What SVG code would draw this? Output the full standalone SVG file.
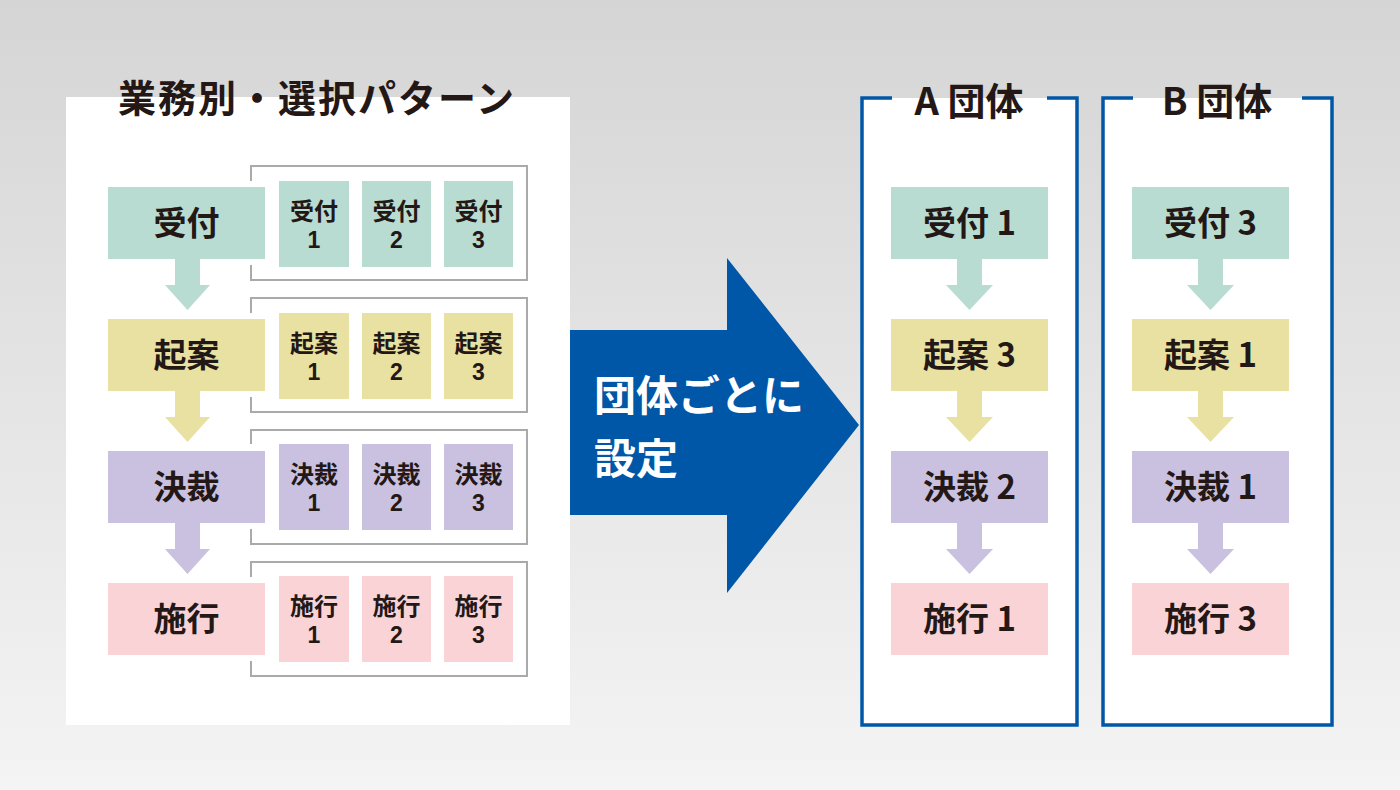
<svg xmlns="http://www.w3.org/2000/svg" width="1400" height="790" viewBox="0 0 1400 790">
<defs>
<linearGradient id="bg" x1="0" y1="0" x2="0" y2="1">
<stop offset="0" stop-color="#d5d5d5"/>
<stop offset="1" stop-color="#f4f4f4"/>
</linearGradient>
<style>
text{font-family:"Noto Sans CJK JP","Noto Sans",sans-serif;font-weight:bold;fill:#231815}
.big{font-size:33px;text-anchor:middle}
.sm{font-size:24px;text-anchor:middle}
.num{font-family:"Liberation Sans",Arial,sans-serif;font-size:23px;text-anchor:middle}
.ttl{font-size:38px;text-anchor:middle}
.c1{fill:#b8dcd2}.c2{fill:#e8e1a2}.c3{fill:#c9c1df}.c4{fill:#f9d3d5}
.grp{fill:none;stroke:#aaaaaa;stroke-width:2}
.blue{fill:none;stroke:#0057a8;stroke-width:3.5}
</style>
</defs>
<rect width="1400" height="790" fill="url(#bg)"/>

<g id="left-panel">
<rect x="66" y="97" width="504" height="628" fill="#ffffff"/>
<text x="317" y="112" style="font-size:38px;letter-spacing:2px;text-anchor:middle">業務別・選択パターン</text>
</g>

<g id="panel-a">
<rect x="862" y="98" width="215" height="627" fill="#ffffff"/>
<path class="blue" d="M892 98H862V725H1077V98H1047"/>
<text class="ttl" x="969" y="115">A 団体</text>
<rect class="c1" x="891" y="187" width="157" height="72"/>
<text class="big" x="969.5" y="235">受付 1</text>
<rect class="c2" x="891" y="319" width="157" height="72"/>
<text class="big" x="969.5" y="367">起案 3</text>
<rect class="c3" x="891" y="451" width="157" height="72"/>
<text class="big" x="969.5" y="499">決裁 2</text>
<rect class="c4" x="891" y="583" width="157" height="72"/>
<text class="big" x="969.5" y="631">施行 1</text>
</g>

<g id="panel-b">
<rect x="1103" y="98" width="230" height="627" fill="#ffffff"/>
<path class="blue" d="M1133 98H1103V725H1332V98H1302"/>
<text class="ttl" x="1217" y="115">B 団体</text>
<rect class="c1" x="1132" y="187" width="157" height="72"/>
<text class="big" x="1210.5" y="235">受付 3</text>
<rect class="c2" x="1132" y="319" width="157" height="72"/>
<text class="big" x="1210.5" y="367">起案 1</text>
<rect class="c3" x="1132" y="451" width="157" height="72"/>
<text class="big" x="1210.5" y="499">決裁 1</text>
<rect class="c4" x="1132" y="583" width="157" height="72"/>
<text class="big" x="1210.5" y="631">施行 3</text>
</g>

<g id="connectors">
<path class="c1" d="M175 259H200V285H210L187.5 310L165 285H175Z"/>
<path class="c2" d="M175 391H200V417H210L187.5 442L165 417H175Z"/>
<path class="c3" d="M175 523H200V549H210L187.5 574L165 549H175Z"/>
<path class="c1" d="M957 259H982V285H993L969.5 310L946 285H957Z"/>
<path class="c2" d="M957 391H982V417H993L969.5 442L946 417H957Z"/>
<path class="c3" d="M957 523H982V549H993L969.5 574L946 549H957Z"/>
<path class="c1" d="M1198 259H1223V285H1234L1210.5 310L1187 285H1198Z"/>
<path class="c2" d="M1198 391H1223V417H1234L1210.5 442L1187 417H1198Z"/>
<path class="c3" d="M1198 523H1223V549H1234L1210.5 574L1187 549H1198Z"/>
</g>

<g id="group-uketsuke">
<path class="grp" d="M251 181V166H527V280H251V265"/>
<rect class="c1" x="108" y="187" width="157" height="72"/>
<text class="big" x="186.5" y="235">受付</text>
<rect class="c1" x="279" y="181" width="70" height="86"/>
<text class="sm" x="314" y="220">受付</text><text class="num" x="314" y="248">1</text>
<rect class="c1" x="362" y="181" width="69" height="86"/>
<text class="sm" x="396.5" y="220">受付</text><text class="num" x="396.5" y="248">2</text>
<rect class="c1" x="444" y="181" width="69" height="86"/>
<text class="sm" x="478.5" y="220">受付</text><text class="num" x="478.5" y="248">3</text>
</g>

<g id="group-kian">
<path class="grp" d="M251 313V298H527V412H251V397"/>
<rect class="c2" x="108" y="319" width="157" height="72"/>
<text class="big" x="186.5" y="367">起案</text>
<rect class="c2" x="279" y="313" width="70" height="86"/>
<text class="sm" x="314" y="352">起案</text><text class="num" x="314" y="380">1</text>
<rect class="c2" x="362" y="313" width="69" height="86"/>
<text class="sm" x="396.5" y="352">起案</text><text class="num" x="396.5" y="380">2</text>
<rect class="c2" x="444" y="313" width="69" height="86"/>
<text class="sm" x="478.5" y="352">起案</text><text class="num" x="478.5" y="380">3</text>
</g>

<g id="group-kessai">
<path class="grp" d="M251 444V430H527V544H251V529"/>
<rect class="c3" x="108" y="451" width="157" height="72"/>
<text class="big" x="186.5" y="499">決裁</text>
<rect class="c3" x="279" y="444" width="70" height="86"/>
<text class="sm" x="314" y="483">決裁</text><text class="num" x="314" y="511">1</text>
<rect class="c3" x="362" y="444" width="69" height="86"/>
<text class="sm" x="396.5" y="483">決裁</text><text class="num" x="396.5" y="511">2</text>
<rect class="c3" x="444" y="444" width="69" height="86"/>
<text class="sm" x="478.5" y="483">決裁</text><text class="num" x="478.5" y="511">3</text>
</g>

<g id="group-shikou">
<path class="grp" d="M251 577V562H527V676H251V661"/>
<rect class="c4" x="108" y="583" width="157" height="72"/>
<text class="big" x="186.5" y="631">施行</text>
<rect class="c4" x="279" y="576" width="70" height="86"/>
<text class="sm" x="314" y="615">施行</text><text class="num" x="314" y="643">1</text>
<rect class="c4" x="362" y="576" width="69" height="86"/>
<text class="sm" x="396.5" y="615">施行</text><text class="num" x="396.5" y="643">2</text>
<rect class="c4" x="444" y="576" width="69" height="86"/>
<text class="sm" x="478.5" y="615">施行</text><text class="num" x="478.5" y="643">3</text>
</g>

<g id="big-arrow">
<path d="M570 330H727V258L859 425L727 593V515H570Z" fill="#0057a8"/>
<text x="594" y="411" style="font-size:42px;fill:#ffffff">団体ごとに</text>
<text x="594" y="474" style="font-size:42px;fill:#ffffff">設定</text>
</g>
</svg>
